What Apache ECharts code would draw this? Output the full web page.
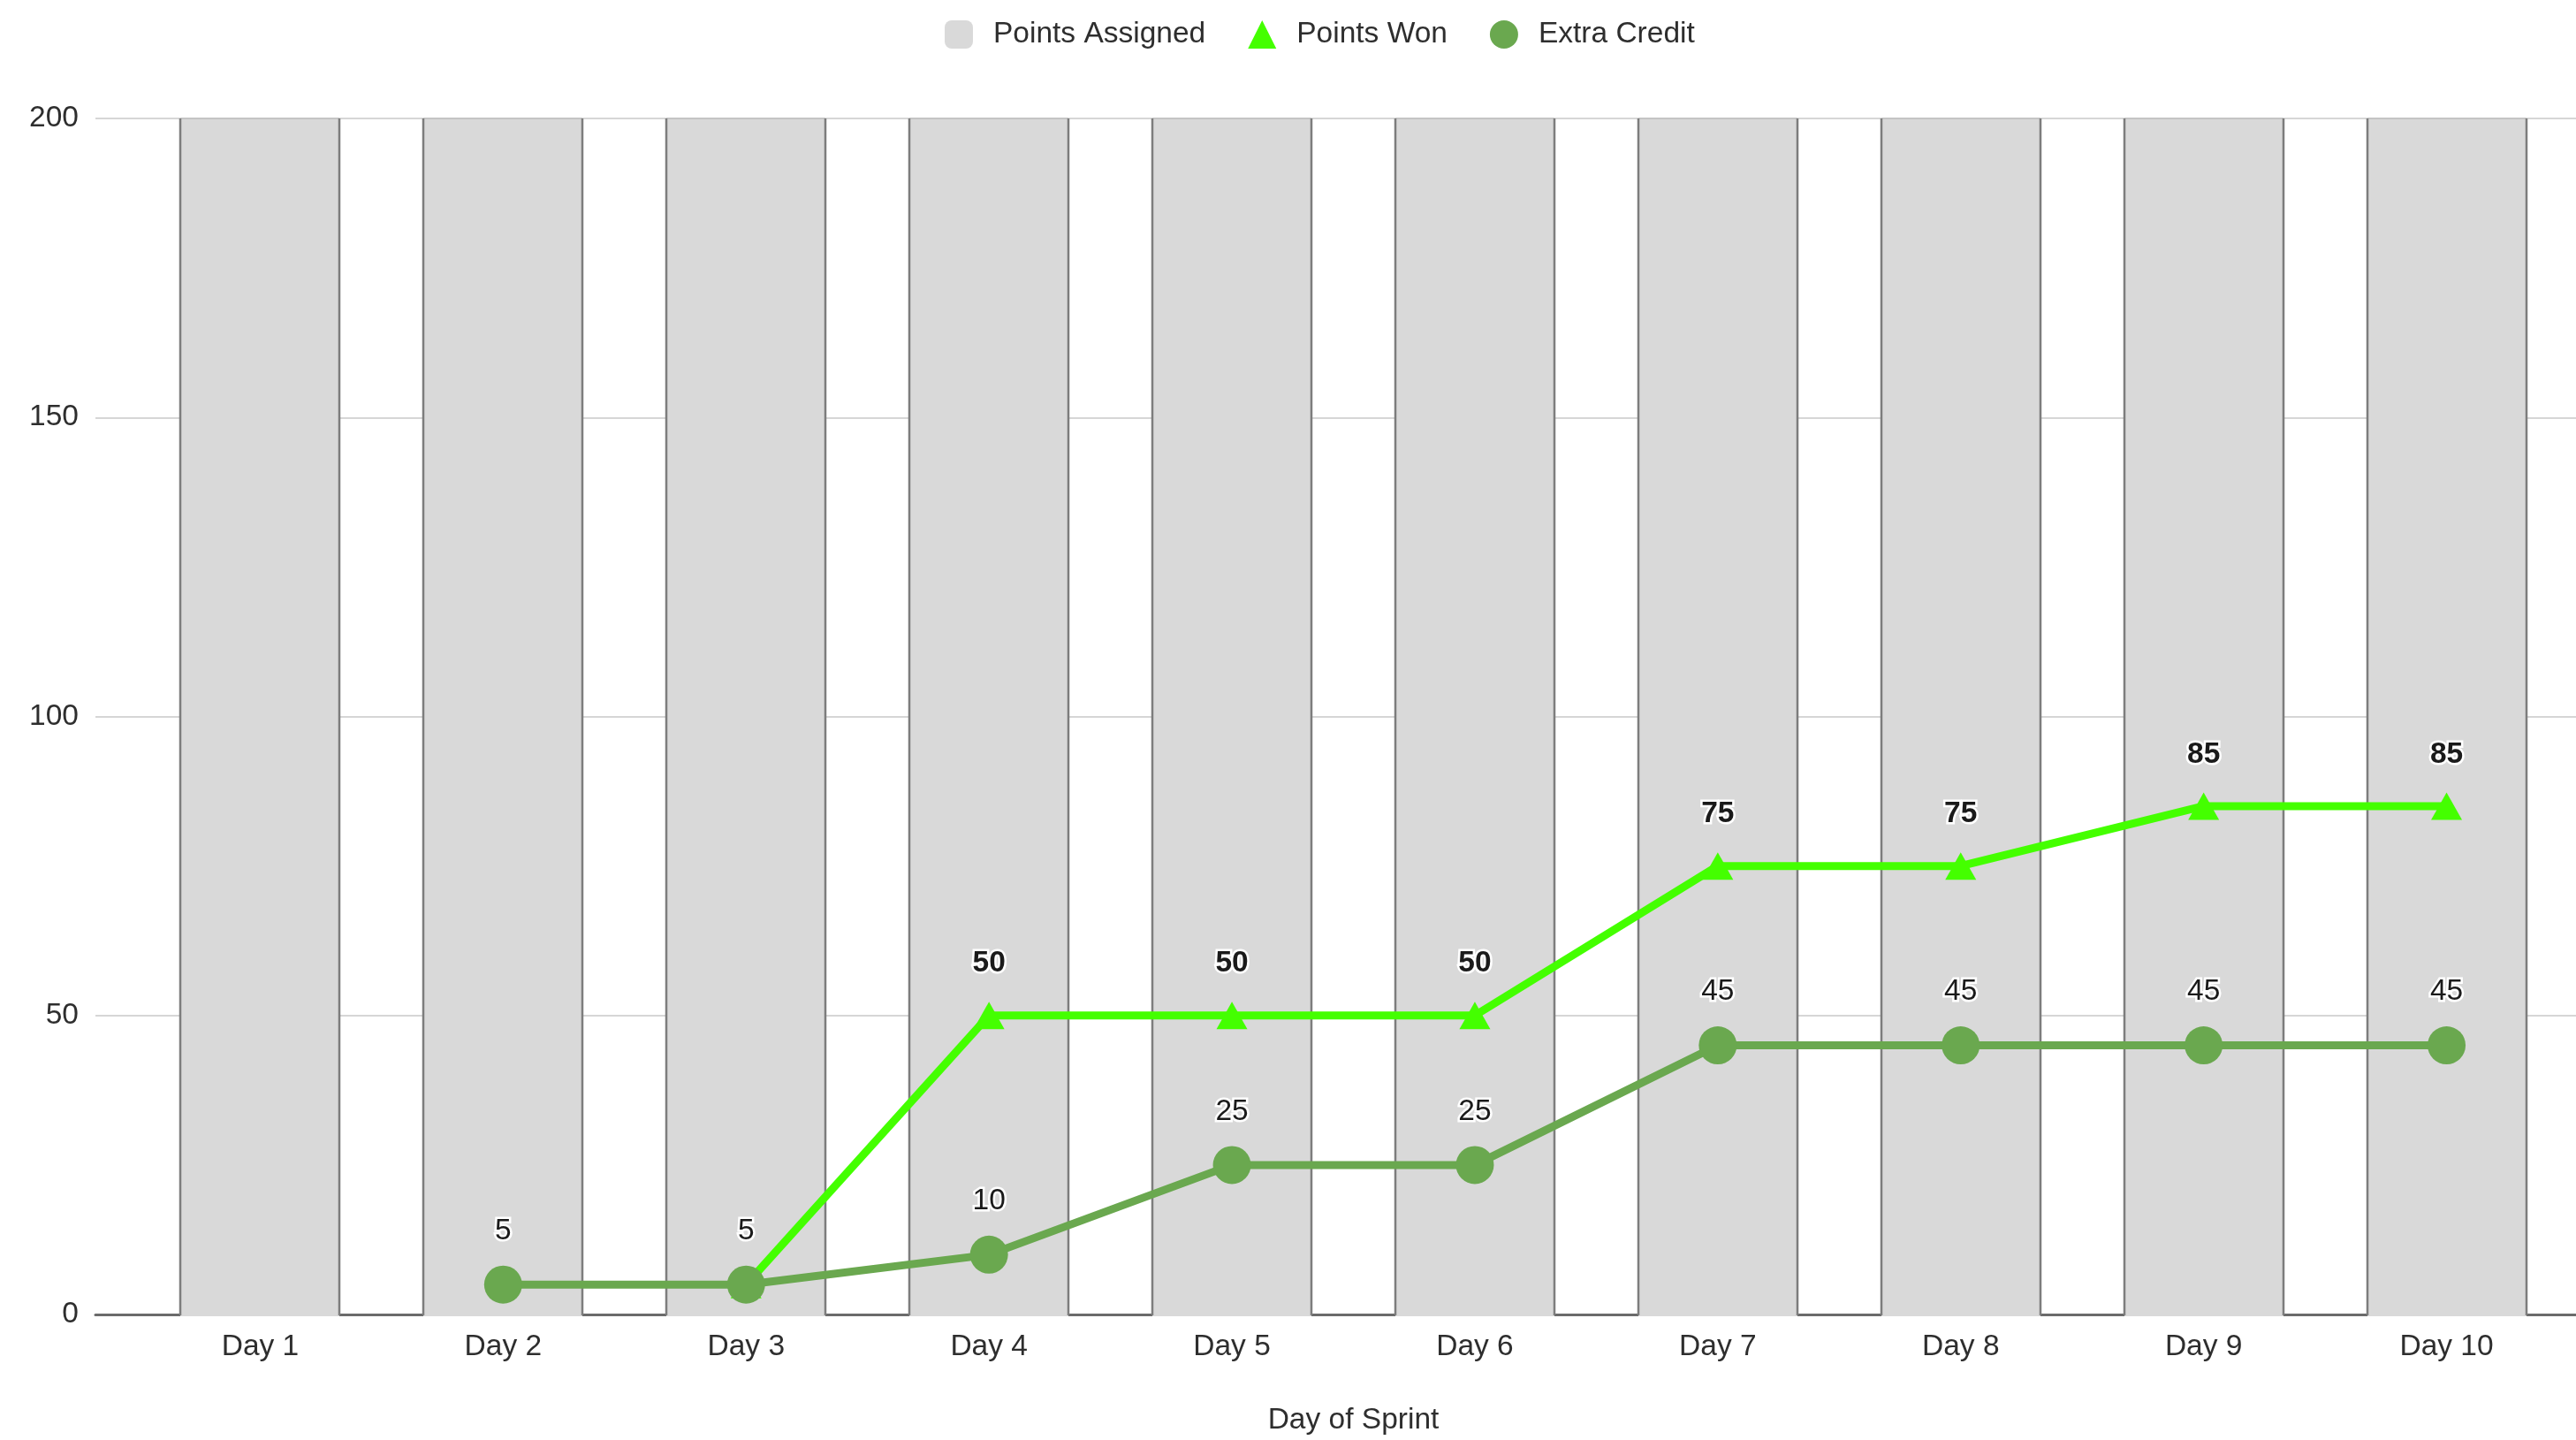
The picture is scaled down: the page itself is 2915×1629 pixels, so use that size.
<!DOCTYPE html>
<html>
<head>
<meta charset="utf-8">
<title>Sprint Points</title>
<script src="https://cdn.jsdelivr.net/npm/echarts@6/dist/echarts.min.js"></script>
<style>
  html, body { margin: 0; padding: 0; background: #ffffff; }
  #chart { width: 2915px; height: 1629px; }
</style>
</head>
<body>
<div id="chart"></div>
<script>
// Sprint data
const days = ['Day 1', 'Day 2', 'Day 3', 'Day 4', 'Day 5', 'Day 6', 'Day 7', 'Day 8', 'Day 9', 'Day 10'];
const pointsAssigned = [200, 200, 200, 200, 200, 200, 200, 200, 200, 200];
const pointsWon = [null, null, 5, 50, 50, 50, 75, 75, 85, 85];
const extraCredit = [null, 5, 5, 10, 25, 25, 45, 45, 45, 45];
const yTicks = [0, 50, 100, 150, 200];

const FONT = '"Liberation Sans", Arial, Helvetica, sans-serif';
const TEXT = '#2e2e2e';
const FS = 33.5;

const chart = echarts.init(document.getElementById('chart'), null, { renderer: 'canvas' });

// Grey bars with dark side edges
function renderBar(params, api) {
  const top = api.coord([api.value(0), api.value(1)]);
  const base = api.coord([api.value(0), 0]);
  const w = api.size([1, 0])[0] * 0.655;
  const x0 = Math.round(top[0] - w / 2);
  const x1 = Math.round(top[0] + w / 2);
  const edge = { stroke: '#7d7d7d', lineWidth: 2.5 };
  return {
    type: 'group',
    children: [
      { type: 'rect', shape: { x: x0, y: top[1], width: x1 - x0, height: base[1] - top[1] + 2 },
        style: { fill: '#d9d9d9' } },
      { type: 'line', shape: { x1: x0, y1: top[1], x2: x1, y2: top[1] },
        style: { stroke: '#c4c4c4', lineWidth: 2 } },
      { type: 'line', shape: { x1: x0, y1: top[1], x2: x0, y2: base[1] + 1 }, style: edge },
      { type: 'line', shape: { x1: x1, y1: top[1], x2: x1, y2: base[1] + 1 }, style: edge }
    ]
  };
}

const labelBase = {
  show: true,
  position: 'top',
  fontFamily: FONT,
  fontSize: FS,
  color: '#1a1a1a',
  textBorderColor: '#ffffff',
  textBorderWidth: 5
};

// Hide a Points Won label where it would sit on the Extra Credit label
const wonData = pointsWon.map((v, i) => ({
  value: v,
  label: { show: v !== extraCredit[i] }
}));

const option = {
  animation: false,
  backgroundColor: '#ffffff',
  textStyle: { fontFamily: FONT },
  legend: {
    top: 17,
    left: 1064,
    itemWidth: 32,
    itemHeight: 32,
    itemGap: 48,
    textStyle: { fontFamily: FONT, fontSize: FS, color: TEXT, padding: [0, 0, 0, 18] },
    data: [
      { name: 'Points Assigned', icon: 'roundRect', itemStyle: { color: '#d9d9d9' } },
      { name: 'Points Won', icon: 'triangle', itemStyle: { color: '#44ff00' } },
      { name: 'Extra Credit', icon: 'circle', itemStyle: { color: '#6aa84f' } }
    ]
  },
  grid: [
    // background frame: gridlines and baseline
    { left: 108, right: 0, top: 134, bottom: 142 },
    // plotting area for the days
    { left: 157, right: 9, top: 134, bottom: 142 }
  ],
  xAxis: [
    {
      gridIndex: 0, type: 'value', min: 0, max: 1,
      axisLine: { show: true, onZero: false, lineStyle: { color: '#6b6b6b', width: 3 } },
      axisTick: { show: false }, axisLabel: { show: false }, splitLine: { show: false }
    },
    {
      gridIndex: 1, type: 'category', data: days,
      axisLine: { show: false }, axisTick: { show: false }, splitLine: { show: false },
      axisLabel: { fontFamily: FONT, fontSize: FS, color: TEXT, margin: 20 },
      name: 'Day of Sprint', nameLocation: 'middle', nameGap: 103,
      nameTextStyle: { fontFamily: FONT, fontSize: FS, color: TEXT }
    }
  ],
  yAxis: [
    {
      gridIndex: 0, type: 'value', min: yTicks[0], max: yTicks[yTicks.length - 1], interval: 50,
      axisLine: { show: false }, axisTick: { show: false },
      axisLabel: { fontFamily: FONT, fontSize: FS, color: TEXT, margin: 19 },
      splitLine: { show: true, lineStyle: { color: '#d6d6d6', width: 2 } }
    },
    {
      gridIndex: 1, type: 'value', min: yTicks[0], max: yTicks[yTicks.length - 1], interval: 50,
      show: false
    }
  ],
  series: [
    {
      name: 'Points Assigned',
      type: 'custom',
      xAxisIndex: 1, yAxisIndex: 1,
      itemStyle: { color: '#d9d9d9' },
      renderItem: renderBar,
      encode: { x: 0, y: 1 },
      data: days.map((d, i) => [d, pointsAssigned[i]]),
      z: 2
    },
    {
      name: 'Points Won',
      type: 'line',
      xAxisIndex: 1, yAxisIndex: 1,
      data: wonData,
      connectNulls: false,
      symbol: 'triangle',
      symbolSize: [35, 31],
      color: '#44ff00',
      lineStyle: { color: '#44ff00', width: 9 },
      itemStyle: { color: '#44ff00' },
      label: Object.assign({}, labelBase, { fontWeight: 'bold', distance: 26 }),
      z: 3
    },
    {
      name: 'Extra Credit',
      type: 'line',
      xAxisIndex: 1, yAxisIndex: 1,
      data: extraCredit,
      symbol: 'circle',
      symbolSize: 43,
      color: '#6aa84f',
      lineStyle: { color: '#6aa84f', width: 9 },
      itemStyle: { color: '#6aa84f' },
      label: Object.assign({}, labelBase, { distance: 22 }),
      z: 4
    }
  ]
};

chart.setOption(option);
</script>
</body>
</html>
